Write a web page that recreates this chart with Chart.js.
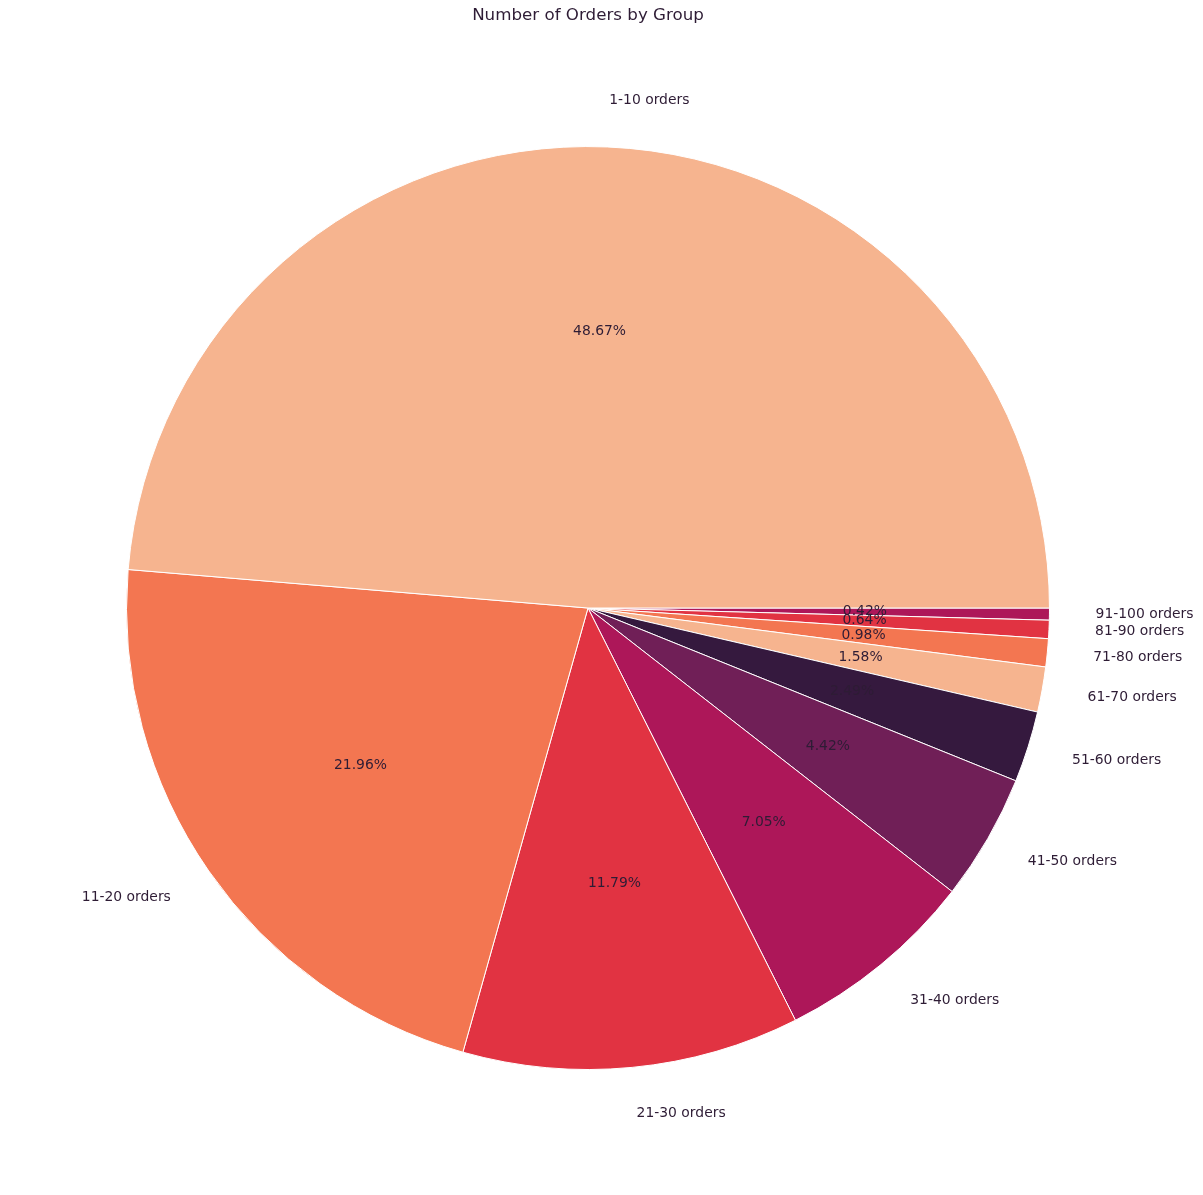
<!DOCTYPE html>
<html lang="en">
<head>
    <meta charset="UTF-8">
    <title>Number of Orders by Group</title>
    <script src="https://cdn.jsdelivr.net/npm/chart.js"></script>
    <style>
        body {
            margin: 0;
            background-color: #ffffff;
        }
        #chart-container {
            width: 1203px;
            height: 1195px;
        }
    </style>
</head>
<body>
    <div id="chart-container">
        <canvas id="ordersChart"></canvas>
    </div>

    <script>
        // groups and their share of orders (%)
        const groups = ['1-10 orders', '11-20 orders', '21-30 orders', '31-40 orders', '41-50 orders',
                        '51-60 orders', '61-70 orders', '71-80 orders', '81-90 orders', '91-100 orders'];
        const shares = [48.67, 21.96, 11.79, 7.05, 4.42, 2.49, 1.58, 0.98, 0.64, 0.42];
        // rocket palette, reversed, cycled over the groups
        const palette = ['#f6b48f', '#f37651', '#e13342', '#ad1759', '#701f57', '#35193e'];

        const textColor = '#2e1c35';
        const fontFamily = '"DejaVu Sans", sans-serif';

        // matplotlib draws counter-clockwise from 3 o'clock; Chart.js goes clockwise,
        // so feed the slices in reverse order and start at 90 degrees
        const labels = groups.slice().reverse();
        const values = shares.slice().reverse();
        const colors = groups.map((g, i) => palette[i % palette.length]).reverse();

        // labels outside the pie at 1.1 r, percentages inside at 0.6 r
        const pieLabels = {
            id: 'pieLabels',
            afterDatasetsDraw(chart) {
                const ctx = chart.ctx;
                const meta = chart.getDatasetMeta(0);
                ctx.save();
                ctx.fillStyle = textColor;
                ctx.font = '13.9px ' + fontFamily;
                ctx.textBaseline = 'middle';
                meta.data.forEach((arc, i) => {
                    const p = arc.getProps(['x', 'y', 'startAngle', 'endAngle', 'outerRadius'], true);
                    const mid = (p.startAngle + p.endAngle) / 2;
                    const cx = Math.cos(mid), cy = Math.sin(mid);

                    ctx.textAlign = cx > 0 ? 'left' : 'right';
                    ctx.fillText(labels[i], p.x + cx * p.outerRadius * 1.1, p.y + cy * p.outerRadius * 1.1);

                    ctx.textAlign = 'center';
                    ctx.fillText(values[i].toFixed(2) + '%', p.x + cx * p.outerRadius * 0.6, p.y + cy * p.outerRadius * 0.6);
                });
                ctx.restore();
            }
        };

        const ctx = document.getElementById('ordersChart').getContext('2d');
        new Chart(ctx, {
            type: 'pie',
            data: {
                labels: labels,
                datasets: [{
                    data: values,
                    backgroundColor: colors,
                    borderColor: '#ffffff',
                    borderWidth: 1
                }]
            },
            options: {
                responsive: true,
                maintainAspectRatio: false,
                animation: false,
                events: [],
                rotation: 90,
                layout: {
                    padding: { left: 126, right: 153, top: 0, bottom: 125 }
                },
                plugins: {
                    legend: { display: false },
                    tooltip: { enabled: false },
                    title: {
                        display: true,
                        text: 'Number of Orders by Group',
                        color: textColor,
                        font: { family: fontFamily, size: 16.7, weight: 'normal', lineHeight: 1.2 },
                        padding: { top: 6, bottom: 120 }
                    }
                }
            },
            plugins: [pieLabels]
        });
    </script>
</body>
</html>
